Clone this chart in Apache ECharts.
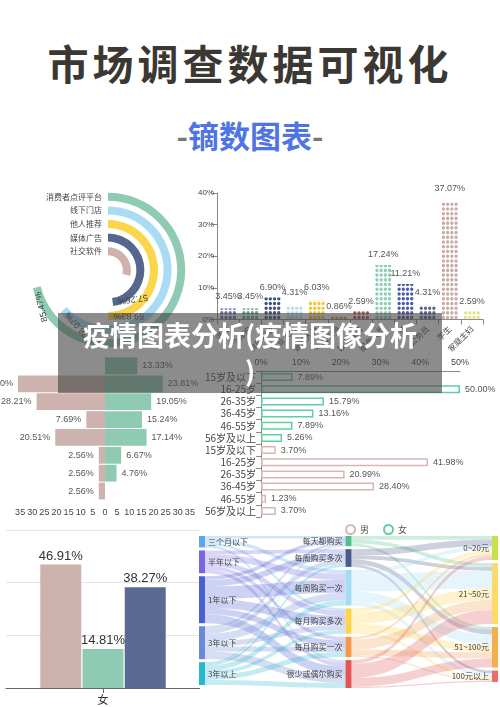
<!DOCTYPE html>
<html><head><meta charset="utf-8">
<script src="https://cdn.jsdelivr.net/npm/echarts@6/dist/echarts.min.js"></script>
<style>
body{margin:0;width:500px;height:707px;background:#fff;position:relative;overflow:hidden;font-family:"Noto Sans CJK SC",sans-serif}
.c{position:absolute}
#t1{position:absolute;left:0;width:500px;top:32px;text-align:center;font-size:41px;font-weight:bold;color:#3b3833;letter-spacing:4px}
#t2{position:absolute;left:0;width:500px;top:112px;text-align:center;font-size:31px;font-weight:bold;color:#4f74e3}
#t2 span{color:#777}
#ban{position:absolute;left:58px;top:313px;width:384px;height:80px;background:rgba(70,70,70,0.62);color:#fff;font-size:27px;font-weight:bold;text-align:center;line-height:36px;padding-top:4px;box-sizing:border-box;z-index:10;white-space:nowrap}
</style></head><body>
<div id="t1">市场调查数据可视化</div>
<div id="t2"><span>-</span>镝数图表<span>-</span></div>
<div class="c" id="A" style="left:0;top:180px;width:200px;height:170px"></div>
<div class="c" id="B" style="left:195px;top:180px;width:305px;height:175px"></div>
<div class="c" id="C" style="left:0;top:340px;width:205px;height:180px"></div>
<div class="c" id="D" style="left:202px;top:355px;width:298px;height:185px"></div>
<div class="c" id="E" style="left:0;top:530px;width:200px;height:177px"></div>
<div class="c" id="F" style="left:198px;top:532px;width:302px;height:165px"></div>
<div id="ban">疫情图表分析(疫情图像分析<br>)</div>
<script>
const channelCats = ['社交软件','媒体广告','他人推荐','线下门店','消费者点评平台'];
const channelVals = [35, 57.26, 59.83, 76.07, 85.47];
const channelColors = ['#cfb0aa','#55668f','#fbd54a','#a9dcf4','#8fcbb2'];

const jobCats = ['退休','个体户','自由职业','专业人士','管理人员','一般职员','技术人员','服务人员','教师','公务员','学生','家庭主妇'];
const jobVals = [3.45,3.45,6.90,4.31,6.03,0.86,2.59,17.24,11.21,4.31,37.07,2.59];
const jobColors = ['#6a6fb0','#5aa887','#3f4f80','#b9def0','#f2c431','#e8893b','#b5524c','#8fd0b4','#4a5cae','#5a6894','#c9aca7','#dfe48d'];

const butterflyRows = ['r1','r2','r3','r4','r5','r6','r7','r8'];
const butterflyMale = [null,35.90,28.21,7.69,20.51,2.56,2.56,2.56];
const butterflyFemale = [13.33,23.81,19.05,15.24,17.14,6.67,4.76,null];

const ageCats = ['15岁及以下','16-25岁','26-35岁','36-45岁','46-55岁','56岁及以上'];
const ageFemale = [7.89,50.00,15.79,13.16,7.89,5.26];
const ageMale = [3.70,41.98,20.99,28.40,1.23,3.70];

const barCat = ['女'];
const barVals = [46.91,14.81,38.27];
const barColors = ['#cdb2ad','#8fcbb2','#5a6a92'];

const sLeft = ['三个月以下','半年以下','1年以下','3年以下','3年以上'];
const sMid = ['每天都购买','每周购买多次','每周购买一次','每月购买多次','每月购买一次','很少或偶尔购买'];
const sRight = ['0~20元','21~50元','51~100元','100元以上'];
const sLeftColors = ['#5aa9e6','#7767e0','#4a5fd0','#6a8ad8','#26b8cc'];
const sMidColors = ['#4fc08d','#4a5a8a','#a5dcf5','#fad54a','#f39a4a','#e05555'];
const sRightColors = ['#c8e04a','#fbd96a','#f5ae4a','#f06a6a'];
const linksLM = [
 ['三个月以下','每天都购买',2],['三个月以下','每周购买一次',3],['三个月以下','每月购买多次',2],['三个月以下','很少或偶尔购买',2],
 ['半年以下','每周购买多次',3],['半年以下','每周购买一次',5],['半年以下','每月购买多次',4],['半年以下','每月购买一次',3],['半年以下','很少或偶尔购买',3],
 ['1年以下','每天都购买',3],['1年以下','每周购买多次',5],['1年以下','每周购买一次',10],['1年以下','每月购买多次',7],['1年以下','每月购买一次',5],['1年以下','很少或偶尔购买',7],
 ['3年以下','每天都购买',2],['3年以下','每周购买多次',4],['3年以下','每周购买一次',6],['3年以下','每月购买多次',4],['3年以下','每月购买一次',4],['3年以下','很少或偶尔购买',6],
 ['3年以上','每天都购买',1],['3年以上','每周购买多次',2],['3年以上','每周购买一次',4],['3年以上','每月购买多次',3],['3年以上','每月购买一次',4],['3年以上','很少或偶尔购买',4]];
const linksMR = [
 ['每天都购买','0~20元',3],['每天都购买','21~50元',3],['每天都购买','51~100元',2],
 ['每周购买多次','0~20元',5],['每周购买多次','21~50元',3],['每周购买多次','51~100元',4],['每周购买多次','100元以上',2],
 ['每周购买一次','0~20元',3],['每周购买一次','21~50元',14],['每周购买一次','51~100元',8],['每周购买一次','100元以上',3],
 ['每月购买多次','0~20元',3],['每月购买多次','21~50元',9],['每月购买多次','51~100元',6],['每月购买多次','100元以上',2],
 ['每月购买一次','0~20元',2],['每月购买一次','21~50元',8],['每月购买一次','51~100元',5],['每月购买一次','100元以上',1],
 ['很少或偶尔购买','0~20元',3],['很少或偶尔购买','21~50元',11],['很少或偶尔购买','51~100元',7],['很少或偶尔购买','100元以上',1]];

const F = '"Noto Sans CJK SC", sans-serif';
const txt = '#555';

echarts.init(document.getElementById('A')).setOption({
  animation:false,
  polar:{center:[108,90],radius:[12,80]},
  angleAxis:{max:120,startAngle:90,show:false},
  radiusAxis:{type:'category',data:channelCats,axisLine:{show:false},axisTick:{show:false},
    axisLabel:{interval:0,hideOverlap:false,fontSize:8,color:'#444',fontFamily:F,margin:6}},
  series:[{type:'bar',coordinateSystem:'polar',barWidth:8,
    data:channelVals.map((v,i)=>({value:v,itemStyle:{color:channelColors[i]},label:{show:i>0}})),
    label:{position:'insideEnd',fontSize:9,color:'#444',formatter:p=>p.value.toFixed(2)+'%'}}]
});

const dotPath='path://M0.2,1a0.8,0.8 0 1,0 1.6,0a0.8,0.8 0 1,0 -1.6,0ZM2.2,1a0.8,0.8 0 1,0 1.6,0a0.8,0.8 0 1,0 -1.6,0ZM4.2,1a0.8,0.8 0 1,0 1.6,0a0.8,0.8 0 1,0 -1.6,0ZM6.2,1a0.8,0.8 0 1,0 1.6,0a0.8,0.8 0 1,0 -1.6,0Z';
echarts.init(document.getElementById('B')).setOption({
  animation:false,
  grid:{left:12,right:17,top:13,bottom:24},
  xAxis:{type:'category',data:jobCats,axisLine:{lineStyle:{color:'#888'}},axisTick:{show:true},
    axisLabel:{rotate:45,fontSize:8,color:'#444',fontFamily:F,interval:0}},
  yAxis:{type:'value',min:0,max:40,interval:10,axisLine:{show:true,lineStyle:{color:'#888'}},axisTick:{show:true},splitLine:{show:false},
    axisLabel:{fontSize:8,color:'#444',formatter:'{value}%',margin:3}},
  series:[{type:'pictorialBar',symbol:dotPath,symbolRepeat:true,symbolClip:true,symbolSize:[16,3.6],symbolMargin:0.6,
    data:jobVals.map((v,i)=>({value:v,itemStyle:{color:jobColors[i]}})),
    label:{show:true,position:'top',fontSize:9,color:txt,formatter:p=>p.value.toFixed(2)+'%'}}]
});

echarts.init(document.getElementById('C')).setOption({
  animation:false,
  grid:{left:8,right:-5,top:17,bottom:20},
  xAxis:{type:'value',min:-40,max:40,interval:5,splitLine:{show:false},axisLine:{lineStyle:{color:'#999'}},axisTick:{show:false},
    axisLabel:{fontSize:9,color:'#444',formatter:v=>Math.abs(v)===40?'':Math.abs(v)}},
  yAxis:{type:'category',data:butterflyRows,inverse:true,show:false},
  series:[
   {type:'bar',stack:'a',barCategoryGap:'6%',data:butterflyMale.map(v=>v==null?null:-v),itemStyle:{color:'#cdb2ad'},
    label:{show:true,position:'left',fontSize:9,color:txt,formatter:p=>Math.abs(p.value).toFixed(2)+'%'}},
   {type:'bar',stack:'a',data:butterflyFemale,itemStyle:{color:'#8fcbb2'},
    label:{show:true,position:'right',fontSize:9,color:txt,formatter:p=>p.value.toFixed(2)+'%'}}]
});

const dCats = ageCats.concat(ageCats);
const femData = ageFemale.concat(Array(6).fill(null));
const maleData = Array(6).fill(null).concat(ageMale);
echarts.init(document.getElementById('D')).setOption({
  animation:false,
  legend:{top:164,left:138,itemWidth:9,itemHeight:9,icon:'circle',itemGap:14,textStyle:{fontSize:9,color:'#555',fontFamily:F},data:['男','女']},
  grid:{left:48,right:40,top:16,bottom:23},
  xAxis:{type:'value',position:'top',min:0,max:50,interval:10,splitLine:{show:false},axisLine:{show:true,lineStyle:{color:'#888'}},
    axisLabel:{fontSize:9,color:'#444',formatter:'{value}%',margin:4}},
  yAxis:{type:'category',data:dCats,inverse:true,axisLine:{lineStyle:{color:'#888'}},axisTick:{show:true},
    axisLabel:{fontSize:10,color:'#444',fontFamily:F,interval:0,margin:5}},
  series:[
   {name:'男',type:'bar',barWidth:8,barGap:'-100%',data:maleData,itemStyle:{color:'#fff',borderColor:'#d7b6b1',borderWidth:1.5},
    label:{show:true,position:'right',fontSize:9,color:txt,formatter:p=>p.value.toFixed(2)+'%'}},
   {name:'女',type:'bar',barWidth:8,data:femData,itemStyle:{color:'#fff',borderColor:'#5fcfa0',borderWidth:1.5},
    label:{show:true,position:'right',fontSize:9,color:txt,formatter:p=>p.value.toFixed(2)+'%'}}],
  color:['#d7b6b1','#5fcfa0']
});

echarts.init(document.getElementById('E')).setOption({
  animation:false,
  grid:{left:6,right:0,top:-7,bottom:19},
  xAxis:{type:'category',data:barCat,axisLine:{lineStyle:{color:'#666'}},axisTick:{show:true,alignWithLabel:true},
    axisLabel:{fontSize:11,color:'#333',fontFamily:F,margin:6}},
  yAxis:{type:'value',min:0,max:60,interval:20,axisLabel:{show:false},axisLine:{show:false},axisTick:{show:false},splitLine:{lineStyle:{color:'#e4e4e4'}}},
  series:barVals.map((v,i)=>({type:'bar',barWidth:41,barGap:'3%',data:[v],itemStyle:{color:barColors[i]},
    label:{show:true,position:'top',fontSize:13,color:'#333',distance:2,formatter:p=>p.value.toFixed(2)+'%'}}))
});

const nodes = [].concat(
  sLeft.map((n,i)=>({name:n,depth:0,itemStyle:{color:sLeftColors[i]},label:{position:'right'}})),
  sMid.map((n,i)=>({name:n,depth:1,itemStyle:{color:sMidColors[i]},label:{position:'left'}})),
  sRight.map((n,i)=>({name:n,depth:2,itemStyle:{color:sRightColors[i]},label:{position:'left'}})));
const links = linksLM.concat(linksMR).map(l=>({source:l[0],target:l[1],value:l[2]}));
echarts.init(document.getElementById('F')).setOption({
  animation:false,
  series:[{type:'sankey',left:1,right:2,top:4,bottom:9,nodeWidth:6,nodeGap:3,layoutIterations:0,draggable:false,
    data:nodes,links:links,
    lineStyle:{color:'source',opacity:0.28,curveness:0.5},
    label:{fontSize:8,color:'#444',fontFamily:F,distance:3}}]
});
</script></body></html>
